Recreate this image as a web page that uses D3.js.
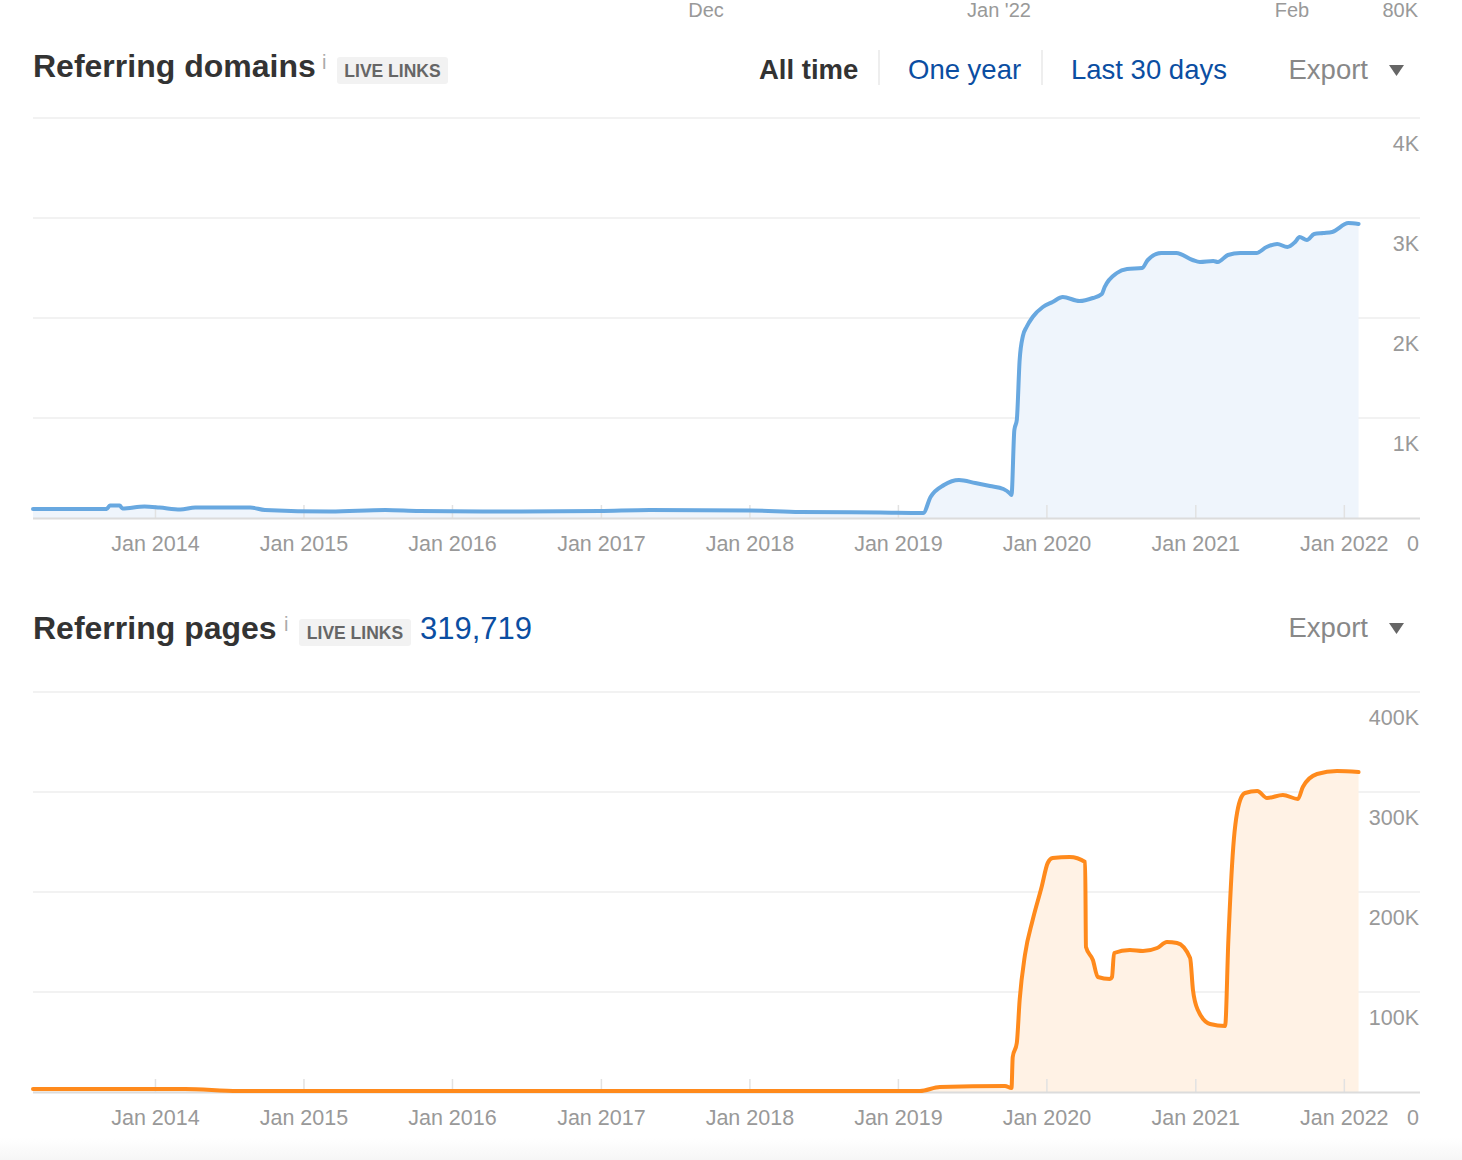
<!DOCTYPE html>
<html><head><meta charset="utf-8">
<script src="https://cdn.jsdelivr.net/npm/d3@7"></script>
<style>
html,body{margin:0;padding:0;background:#fff;}
svg{display:block;font-family:"Liberation Sans",Arial,Helvetica,sans-serif;}
</style></head>
<body>
<svg id="c" width="1462" height="1160"></svg>
<script>
// ---------- data ----------
const topStripLabels = ["Dec", "Jan '22", "Feb"];
const topStripValueLabel = "80K";

const domainsDates = ["2013-03-06","2013-09-03","2013-09-11","2013-10-05","2013-10-12","2013-12-05","2014-01-11","2014-03-03","2014-04-09","2014-08-22","2014-09-27","2015-03-07","2015-07-20","2015-10-12","2016-06-13","2016-12-28","2017-04-30","2018-01-01","2018-05-04","2018-11-17","2019-03-03","2019-03-21","2019-04-23","2019-05-30","2019-07-09","2019-08-14","2019-09-16","2019-10-01","2019-10-06","2019-10-13","2019-10-19","2019-10-26","2019-11-03","2019-11-12","2019-11-27","2019-12-22","2020-01-15","2020-02-09","2020-03-21","2020-04-23","2020-05-15","2020-05-22","2020-06-21","2020-07-16","2020-08-22","2020-09-05","2020-10-08","2020-11-14","2020-12-24","2021-01-11","2021-02-13","2021-02-24","2021-03-21","2021-04-20","2021-05-30","2021-06-24","2021-07-20","2021-08-14","2021-09-02","2021-09-13","2021-10-01","2021-10-19","2021-11-10","2021-12-02","2022-01-11","2022-02-05"];
const domainsValues = [90,90,125,125,95,115,105,85,105,105,80,65,80,70,65,70,80,75,60,55,50,210,330,380,350,320,290,250,230,880,980,1580,1820,1910,2010,2110,2160,2210,2170,2200,2240,2310,2450,2490,2500,2580,2650,2650,2580,2560,2570,2560,2630,2650,2650,2710,2740,2710,2760,2810,2780,2840,2850,2860,2950,2940];

const pagesDates = ["2013-03-06","2014-03-15","2014-07-23","2019-02-23","2019-04-13","2019-09-20","2019-10-06","2019-10-09","2019-10-19","2019-10-26","2019-11-08","2019-11-27","2019-12-19","2020-01-03","2020-01-15","2020-02-26","2020-04-04","2020-04-06","2020-04-23","2020-05-05","2020-06-04","2020-06-09","2020-06-14","2020-07-23","2020-08-24","2020-09-28","2020-10-22","2020-11-16","2020-12-18","2020-12-25","2021-01-06","2021-02-05","2021-03-14","2021-03-22","2021-04-03","2021-04-20","2021-05-02","2021-06-01","2021-06-25","2021-08-03","2021-09-09","2021-09-21","2021-10-26","2021-12-14","2022-02-05"];
const pagesValues = [3000,3000,1000,1000,5000,6000,4000,35000,49000,92000,137000,172000,205000,229000,234000,235000,230000,145000,132000,115000,113000,115000,139000,142000,141000,144000,150000,149000,134000,102000,82000,68000,66000,152000,245000,292000,299000,301000,294000,297000,293000,305000,318000,321000,320000];

const domainsTicks = [0,1000,2000,3000,4000];
const domainsTickLabels = ["0","1K","2K","3K","4K"];
const pagesTicks = [0,100000,200000,300000,400000];
const pagesTickLabels = ["0","100K","200K","300K","400K"];
const xTickYears = [2014,2015,2016,2017,2018,2019,2020,2021,2022];

const pagesTotal = "319,719";

// ---------- drawing ----------
const svg = d3.select("#c");
const parse = d3.timeParse("%Y-%m-%d");
const W = {left:33, right:1420};
const x = d3.scaleTime().domain([parse("2013-03-06"), parse("2022-07-06")]).range([W.left, W.right]);

const GRAY = "#999";
const BLUE = "#0b4ea2";

// top strip (cut-off previous chart)
svg.append("g").selectAll("text").data(topStripLabels).join("text")
  .attr("x",(d,i)=>[706,999,1292][i]).attr("y",17).attr("text-anchor","middle")
  .attr("font-size",20).attr("fill",GRAY).text(d=>d);
svg.append("text").attr("x",1418).attr("y",17).attr("text-anchor","end")
  .attr("font-size",20).attr("fill",GRAY).text(topStripValueLabel);

function header(g, title, iX, badgeX, badgeW, baseY){
  g.append("text").attr("x",33).attr("y",baseY).attr("font-size",32).attr("font-weight","bold")
    .attr("fill","#333").text(title);
  g.append("text").attr("x",iX).attr("y",baseY-8).attr("font-size",20).attr("fill","#aaa").text("i");
  g.append("rect").attr("x",badgeX).attr("y",baseY-20).attr("width",badgeW).attr("height",27)
    .attr("rx",3).attr("fill","#f2f2f2");
  g.append("text").attr("x",badgeX+badgeW/2).attr("y",baseY).attr("text-anchor","middle")
    .attr("font-size",17.5).attr("font-weight","bold").attr("fill","#666").text("LIVE LINKS");
}
function exportBtn(g, baseY){
  g.append("text").attr("x",1368).attr("y",baseY).attr("text-anchor","end").attr("font-size",27.5)
    .attr("fill","#888").text("Export");
  g.append("path").attr("d",`M1389,${baseY-14} L1404,${baseY-14} L1396.5,${baseY-3} Z`).attr("fill","#666");
}

function chart(dates, values, ticks, tickLabels, top, bottom, lineColor, fillColor){
  const data = dates.map((d,i)=>({date:parse(d), v:values[i]}));
  const y = d3.scaleLinear().domain([ticks[0], ticks[ticks.length-1]]).range([bottom, top]);
  const g = svg.append("g");
  g.selectAll("line.grid").data(ticks.slice(1)).join("line")
    .attr("x1",W.left).attr("x2",W.right).attr("y1",d=>y(d)).attr("y2",d=>y(d))
    .attr("stroke","#e6e6e6").attr("stroke-width",1.2);
  const area = d3.area().x(d=>x(d.date)).y0(bottom).y1(d=>y(d.v)).curve(d3.curveMonotoneX);
  g.append("path").datum(data).attr("d",area).attr("fill",fillColor);
  const yrs = xTickYears.map(yr=>new Date(yr,0,1));
  g.selectAll("line.xt").data(yrs).join("line")
    .attr("x1",d=>x(d)).attr("x2",d=>x(d)).attr("y1",bottom-13).attr("y2",bottom)
    .attr("stroke","#e2e2e2").attr("stroke-width",1.5);
  g.append("line").attr("x1",W.left).attr("x2",W.right).attr("y1",bottom+0.5).attr("y2",bottom+0.5)
    .attr("stroke","#dcdcdc").attr("stroke-width",2);
  const line = d3.line().x(d=>x(d.date)).y(d=>y(d.v)).curve(d3.curveMonotoneX);
  g.append("path").datum(data).attr("d",line).attr("fill","none").attr("stroke",lineColor)
    .attr("stroke-width",4).attr("stroke-linejoin","round").attr("stroke-linecap","round");
  const fmt = d3.timeFormat("Jan %Y");
  g.selectAll("text.xl").data(yrs).join("text")
    .attr("x",d=>x(d)).attr("y",bottom+33).attr("text-anchor","middle")
    .attr("font-size",21.5).attr("fill",GRAY).text(d=>fmt(d));
  g.selectAll("text.yl").data(ticks).join("text")
    .attr("x",W.right-1).attr("y",d=>y(d)+33).attr("text-anchor","end")
    .attr("font-size",21.5).attr("fill",GRAY).text((d,i)=>tickLabels[i]);
}

// Chart 1 header
const h1 = svg.append("g");
header(h1, "Referring domains", 322, 337, 111, 77);
h1.append("text").attr("x",759).attr("y",79).attr("font-size",27.5).attr("font-weight","bold").attr("fill","#333").text("All time");
h1.append("line").attr("x1",879).attr("x2",879).attr("y1",50).attr("y2",85).attr("stroke","#e8e8e8").attr("stroke-width",1.5);
h1.append("text").attr("x",908).attr("y",79).attr("font-size",27.5).attr("fill",BLUE).text("One year");
h1.append("line").attr("x1",1042).attr("x2",1042).attr("y1",50).attr("y2",85).attr("stroke","#e8e8e8").attr("stroke-width",1.5);
h1.append("text").attr("x",1071).attr("y",79).attr("font-size",27.5).attr("fill",BLUE).text("Last 30 days");
exportBtn(h1, 79);

chart(domainsDates, domainsValues, domainsTicks, domainsTickLabels, 118, 518, "#68a8e0", "#eff5fc");

// Chart 2 header
const h2 = svg.append("g");
header(h2, "Referring pages", 284, 299, 112, 639);
h2.append("text").attr("x",420).attr("y",639).attr("font-size",31).attr("fill",BLUE).text(pagesTotal);
exportBtn(h2, 637);

chart(pagesDates, pagesValues, pagesTicks, pagesTickLabels, 692, 1092, "#ff8a1c", "#fff2e5");

// bottom fade
const grad = svg.append("defs").append("linearGradient").attr("id","fade").attr("x1",0).attr("x2",0).attr("y1",0).attr("y2",1);
grad.append("stop").attr("offset","0").attr("stop-color","#fff");
grad.append("stop").attr("offset","1").attr("stop-color","#f6f6f6");
svg.append("rect").attr("x",0).attr("y",1138).attr("width",1462).attr("height",22).attr("fill","url(#fade)");
</script>
</body></html>
